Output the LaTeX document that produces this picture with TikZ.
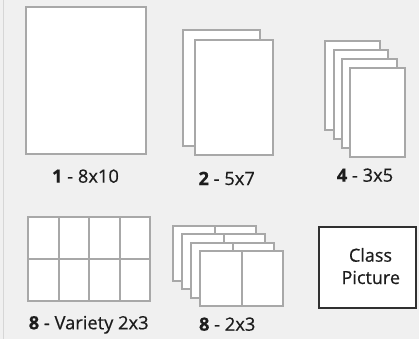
\documentclass[tikz,border=0pt]{standalone}
\usepackage{fontspec}
\setmainfont{Open Sans}
\newfontfamily\medfont{Open Sans}[FakeBold=0.5]
\definecolor{bg}{HTML}{F0F0F0}
\definecolor{edge}{HTML}{A8A8A8}
\definecolor{sideline}{HTML}{D6D6D6}
\definecolor{txt}{HTML}{1C1C1C}
\definecolor{dark}{HTML}{303030}
\begin{document}
\begin{tikzpicture}[x=1pt,y=-1pt,
  card/.style={draw=edge,fill=white,line width=2pt},
  grid/.style={draw=edge,line width=2pt},
  label/.style={anchor=base,inner sep=0pt,text=txt,font=\medfont\fontsize{18.3}{21}\selectfont},
  classbox/.style={draw=dark,fill=white,line width=2pt},
  classtxt/.style={anchor=base,inner sep=0pt,text=txt,font=\medfont\fontsize{18}{21}\selectfont}]
\useasboundingbox (0,0) rectangle (419,339);
\fill[bg] (0,0) rectangle (419,339);
\draw[sideline,line width=1pt] (3.5,0) -- (3.5,339);
% 1 - 8x10
\draw[card] (25.5,7.3) rectangle (145.5,154);
\node[label] (l1) at (85.5,182.7) {\textbf{1} - 8x10};
% 2 - 5x7
\draw[card] (182.8,30.3) rectangle (260,145.7);
\draw[card] (195,39.7) rectangle (273,155);
\node[label] (l2) at (226.7,185) {\textbf{2} - 5x7};
% 4 - 3x5
\foreach \i in {0,1,2,3}{
  \draw[card] (325.3+8.35*\i,41+8.9*\i) rectangle (380+8.35*\i,130+8.9*\i);
}
\node[label] (l4) at (365,181.7) {\textbf{4} - 3x5};
% 8 - Variety 2x3
\draw[card] (28.3,217) rectangle (149.7,300.7);
\draw[grid] (59,217) -- (59,300.7);
\draw[grid] (89.3,217) -- (89.3,300.7);
\draw[grid] (120,217) -- (120,300.7);
\draw[grid] (28.3,259) -- (149.7,259);
\node[label] (l8v) at (88.7,329.3) {\textbf{8} - Variety 2x3};
% 8 - 2x3
\foreach \i in {0,1,2,3}{
  \draw[card] (173.3+9*\i,226+8.4*\i) rectangle (255.7+9*\i,280.7+8.4*\i);
  \draw[grid] (214.5+9*\i,226+8.4*\i) -- (214.5+9*\i,280.7+8.4*\i);
}
\node[label] (l8) at (227.2,330.7) {\textbf{8} - 2x3};
% Class Picture
\draw[classbox] (319,226.7) rectangle (416,308);
\node[classtxt] (c1) at (370.5,261.7) {Class};
\node[classtxt] (c2) at (370.8,284) {Picture};
\end{tikzpicture}
\end{document}
